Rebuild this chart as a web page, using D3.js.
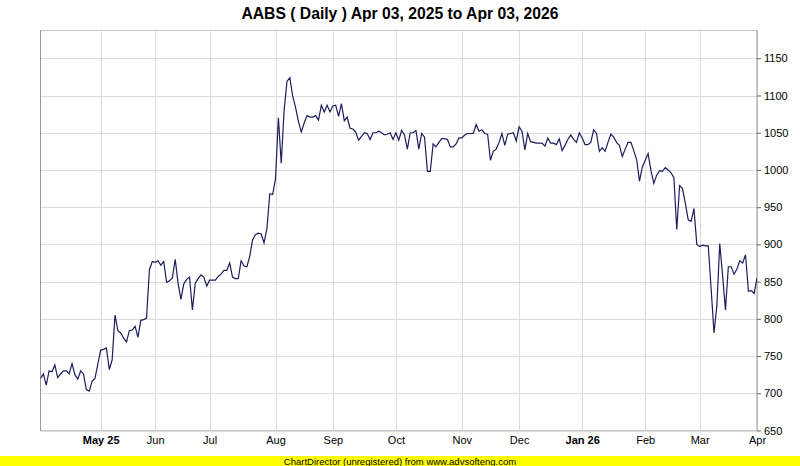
<!DOCTYPE html>
<html><head><meta charset="utf-8">
<script src="https://cdn.jsdelivr.net/npm/d3@7/dist/d3.min.js"></script>
<style>body{margin:0;background:#fff}svg{display:block}</style>
</head><body>
<script>
const titleText = "AABS ( Daily ) Apr 03, 2025 to Apr 03, 2026";
const closes = [720,726,711,730,729,738,721,726,730,730,726,740,725,719,730,726,705,703,716,720,
739,758,759,761,732,745,805,784,781,774,769,784,785,790,775,798,799,801,866,877,
876,878,872,877,849,851,855,880,848,826,847,853,856,812,848,854,859,856,844,852,
852,852,857,860,865,865,875,856,854,854,878,871,870,884,906,913,915,914,902,921,
968,967,988,1070,1009,1080,1119,1124,1099,1084,1065,1051,1063,1073,1071,1071,1073,1067,1087,1078,
1087,1078,1086,1087,1072,1089,1066,1071,1056,1055,1051,1040,1045,1050,1049,1041,1050,1050,1052,1050,
1047,1048,1050,1041,1050,1040,1053,1047,1028,1050,1050,1053,1028,1049,1044,998,998,1035,1031,1037,
1042,1042,1041,1031,1031,1035,1043,1043,1047,1049,1049,1049,1061,1052,1054,1049,1048,1013,1025,1028,
1037,1049,1033,1048,1049,1050,1039,1058,1052,1027,1049,1038,1037,1036,1036,1036,1032,1043,1036,1036,
1034,1042,1026,1033,1041,1047,1041,1037,1050,1043,1034,1034,1037,1054,1049,1025,1030,1025,1037,1048,
1044,1037,1033,1018,1028,1037,1037,1026,1014,985,1004,1013,1022,999,982,993,999,998,1003,1000,
996,990,920,979,975,955,933,931,948,900,897,899,898,898,840,781,818,901,858,812,
870,870,860,867,878,875,886,837,838,834,855];
const tickIdx = [21,40,59,82,102,124,147,167,189,211,230,250];
const tickLabels = ["May 25","Jun","Jul","Aug","Sep","Oct","Nov","Dec","Jan 26","Feb","Mar","Apr"];
const tickBold = ["May 25","Jan 26"];
const yTicks = [650,700,750,800,850,900,950,1000,1050,1100,1150];
const yDomain = [650,1188];

const W=800,H=466;
const L=40.5,R=757,T=30,B=430.5;
const svg=d3.select("body").append("svg").attr("width",W).attr("height",H);
const font="'Liberation Sans', Arial, sans-serif";

const x=d3.scaleLinear().domain([0,closes.length-1]).range([L,R]);
const y=d3.scaleLinear().domain(yDomain).range([B,T]);

svg.append("rect").attr("x",L).attr("y",T).attr("width",R-L).attr("height",B-T).attr("fill","#fff");

// grid
const g=svg.append("g");
g.selectAll("line.h").data(yTicks).join("line")
 .attr("x1",L).attr("x2",R).attr("y1",d=>Math.round(y(d))+0.5).attr("y2",d=>Math.round(y(d))+0.5)
 .attr("stroke","#dcdcdc").attr("stroke-width",1);
g.selectAll("line.v").data(tickIdx).join("line")
 .attr("y1",T).attr("y2",B).attr("x1",d=>Math.round(x(d))+0.5).attr("x2",d=>Math.round(x(d))+0.5)
 .attr("stroke","#dcdcdc").attr("stroke-width",1);

// border
svg.append("line").attr("x1",L).attr("x2",R).attr("y1",T+0.5).attr("y2",T+0.5).attr("stroke","#c8c8c8");
svg.append("line").attr("x1",L).attr("x2",R).attr("y1",B).attr("y2",B).attr("stroke","#c8c8c8");
svg.append("line").attr("x1",L).attr("x2",L).attr("y1",T).attr("y2",B+0.5).attr("stroke","#999");
svg.append("line").attr("x1",R).attr("x2",R).attr("y1",T).attr("y2",B+0.5).attr("stroke","#999");

// clip
svg.append("clipPath").attr("id","clip").append("rect").attr("x",L).attr("y",T).attr("width",R-L).attr("height",B-T);

const line=d3.line().x((d,i)=>x(i)).y(d=>y(d));
svg.append("path").datum(closes).attr("clip-path","url(#clip)")
 .attr("d",line).attr("fill","none").attr("stroke","#1c1c5c").attr("stroke-width",1.2);

// y axis right
const ya=svg.append("g").attr("transform",`translate(${R},0)`)
 .call(d3.axisRight(y).tickValues(yTicks).tickSize(4).tickPadding(3).tickFormat(d3.format("d")));
ya.select(".domain").remove();
ya.selectAll(".tick line").attr("stroke","#666");
ya.selectAll("text").attr("font-family",font).attr("font-size",11).attr("fill","#000");

// x axis
const xa=svg.append("g").attr("transform",`translate(0,${B})`)
 .call(d3.axisBottom(x).tickValues(tickIdx).tickSize(0).tickPadding(6).tickFormat((d,i)=>tickLabels[i]));
xa.select(".domain").remove();
xa.selectAll("text").attr("font-family",font).attr("font-size",11).attr("fill","#000")
 .attr("font-weight",(d,i)=>tickBold.includes(tickLabels[i])?"bold":"normal");

// title
svg.append("text").attr("x",400).attr("y",19).attr("text-anchor","middle")
 .attr("font-family",font).attr("font-weight","bold").attr("font-size",15.7).text(titleText);

// footer
svg.append("rect").attr("x",0).attr("y",456).attr("width",W).attr("height",10).attr("fill","#ffff00");
svg.append("text").attr("x",400).attr("y",464.5).attr("text-anchor","middle")
 .attr("font-family",font).attr("font-size",9.5).attr("fill","#000").text("ChartDirector (unregistered) from www.advsofteng.com");
</script>
</body></html>
